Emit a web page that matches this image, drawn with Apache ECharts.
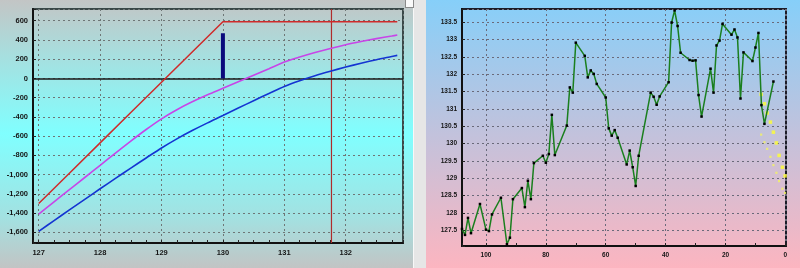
<!DOCTYPE html>
<html><head><meta charset="utf-8">
<script src="https://cdn.jsdelivr.net/npm/echarts@6/dist/echarts.min.js"></script>
<style>
html,body{margin:0;padding:0;background:#c0c0c0;}
#wrap{position:relative;width:800px;height:268px;overflow:hidden;}
#bgL{position:absolute;left:0;top:0;width:413px;height:268px;background:linear-gradient(to bottom,#c3c5c5 0%,#a8dede 20%,#80ffff 50%,#a4e0e0 82%,#c2c4c4 100%);}
#sep{position:absolute;left:413px;top:0;width:13px;height:268px;background:#e6e6e6;border-left:1px solid #f8f8f8;}
#bgR{position:absolute;left:426px;top:0;width:374px;height:268px;background:linear-gradient(to bottom,#86cff9 0%,#c2c2dc 50%,#fcb5c0 100%);}
#box{position:absolute;left:405px;top:-2px;width:7px;height:8px;background:#fafafa;border:1px solid #8a8a8a;}
#c{position:absolute;left:0;top:0;width:800px;height:268px;}
</style>
</head><body>
<div id="wrap"><div id="bgL"></div><div id="sep"></div><div id="bgR"></div><div id="box"></div><div id="c"></div></div>
<script>
// ---- Left panel: P/L vs underlying price ----
const expiryX = [127, 127.5, 128, 128.5, 129, 129.5, 130, 132.84];
const expiryPL = [-1300, -985, -670, -355, -40, 275, 590, 590];
const curveX = [127, 127.25, 127.5, 127.75, 128, 128.25, 128.5, 128.75, 129, 129.25, 129.5, 129.75,
  130, 130.25, 130.5, 130.75, 131, 131.25, 131.5, 131.75, 132, 132.25, 132.5, 132.75, 132.84];
const midPL = [-1411, -1283, -1156, -1030, -904, -776, -651, -531, -420, -325, -243, -170,
  -103, -35, 33, 101, 170, 222, 269, 312, 351, 384, 414, 441, 451];
const nowPL = [-1590, -1478, -1367, -1257, -1147, -1039, -932, -827, -723, -628, -542, -462,
  -386, -308, -231, -156, -83, -23, 29, 75, 118, 158, 195, 228, 240];
const barX = [130, 130];
const barY = [0, 470];
const currentPrice = 131.768;
const plRange = [-1711, 722];

// ---- Right panel: price history (days ago) ----
const daysAgo = [108,107,106,105,102,100,99,98,95,93,92,91,88,87,86,85,84,81,80,79,78,77,73,72,71,70,
  67,66,65,64,63,60,59,58,57,56,53,52,51,50,49,45,44,43,42,39,38,37,36,35,32,31,30,29,28,
  25,24,23,22,21,18,17,16,15,14,11,10,9,8,7,4];
const closePrice = [127.54,127.37,127.86,127.42,128.26,127.52,127.48,127.96,128.44,127.10,127.29,128.40,
  128.72,128.17,128.93,128.40,129.44,129.65,129.45,129.70,130.83,129.67,130.52,131.62,131.47,132.91,
  132.53,131.91,132.11,132.01,131.72,131.33,130.44,130.23,130.39,130.17,129.40,129.80,129.32,128.78,129.65,
  131.47,131.35,131.12,131.36,131.77,133.49,133.84,133.39,132.62,132.41,132.39,132.40,131.40,130.78,
  132.16,131.47,132.83,132.97,133.45,133.14,133.29,133.06,131.30,132.63,132.38,132.77,133.19,131.11,130.57,131.79];
const coneDays = [8.1, 7.0, 6.1, 5.0, 4.0, 3.0, 2.1, 1.0, 0.1];
const coneUpper = [131.42, 131.15, 130.88, 130.62, 130.33, 130.02, 129.66, 129.32, 129.07];
const coneLower = [130.26, 130.04, 129.85, 129.62, 129.38, 129.16, 128.92, 128.70, 128.58];

const zip = (a, b) => a.map((v, i) => [v, b[i]]);
const FONT = 'Liberation Sans, Arial, sans-serif';
const dash = {show: true, lineStyle: {color: '#6e7676', type: [2, 3], width: 1}};
const dashR = {show: true, lineStyle: {color: '#6a6a7a', type: [2, 3], width: 1}};
const isMult = (v, m) => Math.abs(v / m - Math.round(v / m)) < 1e-6;
const lbl = (size, fmt) => ({fontSize: size, fontFamily: FONT, fontWeight: 'bold', color: '#161616', formatter: fmt});

const chart = echarts.init(document.getElementById('c'), null, {renderer: 'canvas'});
chart.setOption({
  backgroundColor: 'transparent',
  animation: false,
  grid: [
    {left: 33, top: 9, width: 370, height: 234, show: true, borderColor: '#3a4848', borderWidth: 2, backgroundColor: 'transparent', containLabel: false, outerBoundsMode: 'none'},
    {left: 462, top: 9, width: 324, height: 237, show: true, borderColor: '#1c1c28', borderWidth: 2, backgroundColor: 'transparent', containLabel: false, outerBoundsMode: 'none'}
  ],
  xAxis: [
    {gridIndex: 0, type: 'value', position: 'bottom', min: 126.907, max: 132.933, minInterval: 1, maxInterval: 1,
      axisLine: {show: true, onZero: false, lineStyle: {color: '#111', width: 2}}, axisTick: {show: false},
      axisLabel: Object.assign(lbl(7.5, v => isMult(v, 1) ? String(Math.round(v)) : ''), {margin: 6}),
      splitLine: dash},
    {gridIndex: 0, type: 'value', position: 'bottom', min: 126.907, max: 132.933, minInterval: 0.25, maxInterval: 0.25,
      axisLine: {show: false, onZero: false}, axisTick: {show: true, inside: true, length: 3, lineStyle: {color: '#222', width: 1}},
      axisLabel: {show: false}, splitLine: {show: false}},
    {gridIndex: 1, type: 'value', position: 'bottom', inverse: true, min: -0.2, max: 108, minInterval: 20, maxInterval: 20,
      axisLine: {show: true, onZero: false, lineStyle: {color: '#111', width: 2}}, axisTick: {show: false},
      axisLabel: Object.assign(lbl(6.5, v => isMult(v, 20) ? String(Math.round(v)) : ''), {margin: 6}),
      splitLine: dashR},
    {gridIndex: 1, type: 'value', position: 'bottom', inverse: true, min: -0.2, max: 108, minInterval: 10, maxInterval: 10,
      axisLine: {show: false, onZero: false}, axisTick: {show: true, inside: true, length: 3, lineStyle: {color: '#222', width: 1}},
      axisLabel: {show: false}, splitLine: {show: false}}
  ],
  yAxis: [
    {gridIndex: 0, type: 'value', position: 'left', min: plRange[0], max: plRange[1], minInterval: 200, maxInterval: 200,
      axisLine: {show: true, onZero: false, lineStyle: {color: '#111', width: 2}}, axisTick: {show: true, inside: true, length: 3, lineStyle: {color: '#222'}},
      axisLabel: Object.assign(lbl(7.5, v => isMult(v, 200) ? Math.round(v).toLocaleString('en-US') : ''), {margin: 5}),
      splitLine: dash},
    {gridIndex: 1, type: 'value', position: 'left', min: 127.05, max: 133.88, minInterval: 0.5, maxInterval: 0.5,
      axisLine: {show: true, onZero: false, lineStyle: {color: '#111', width: 2}}, axisTick: {show: true, inside: true, length: 3, lineStyle: {color: '#222'}},
      axisLabel: Object.assign(lbl(6.5, v => isMult(v, 0.5) ? String(+v.toFixed(1)) : ''), {margin: 5}),
      splitLine: dashR}
  ],
  series: [
    {type: 'line', xAxisIndex: 0, yAxisIndex: 0, data: [[currentPrice, plRange[0]], [currentPrice, plRange[1]]],
      showSymbol: false, symbol: 'none', lineStyle: {color: '#b02c2c', width: 1.2}, z: 3},
    {type: 'line', xAxisIndex: 0, yAxisIndex: 0, data: zip(expiryX, expiryPL), showSymbol: false, symbol: 'none',
      lineStyle: {color: '#d02a2a', width: 1.5}, z: 5,
      markLine: {silent: true, symbol: 'none', label: {show: false}, lineStyle: {color: '#1a1a1a', width: 1.5, type: 'solid'},
        data: [{yAxis: 0}]}},
    {type: 'line', xAxisIndex: 0, yAxisIndex: 0, data: zip(curveX, midPL), showSymbol: false, symbol: 'none', smooth: 0.3,
      lineStyle: {color: '#c845e8', width: 1.6}, z: 5},
    {type: 'line', xAxisIndex: 0, yAxisIndex: 0, data: zip(curveX, nowPL), showSymbol: false, symbol: 'none', smooth: 0.3,
      lineStyle: {color: '#1434d2', width: 1.6}, z: 5},
    {type: 'line', xAxisIndex: 0, yAxisIndex: 0, data: zip(barX, barY), showSymbol: false, symbol: 'none',
      lineStyle: {color: '#0a0a7c', width: 4, cap: 'butt'}, z: 6},
    {type: 'line', xAxisIndex: 2, yAxisIndex: 1, data: zip(daysAgo, closePrice), symbol: 'rect', symbolSize: 2.5, showSymbol: true,
      itemStyle: {color: '#000'}, lineStyle: {color: '#1a7f1e', width: 1.5}, z: 5},
    {type: 'scatter', xAxisIndex: 2, yAxisIndex: 1, data: zip(coneDays, coneUpper), symbol: 'rect', symbolSize: 3.5,
      itemStyle: {color: '#ffff30'}, z: 4},
    {type: 'scatter', xAxisIndex: 2, yAxisIndex: 1, data: zip(coneDays, coneLower), symbol: 'rect', symbolSize: 2.2,
      itemStyle: {color: '#f4f460'}, z: 4}
  ]
});
</script>
</body></html>
